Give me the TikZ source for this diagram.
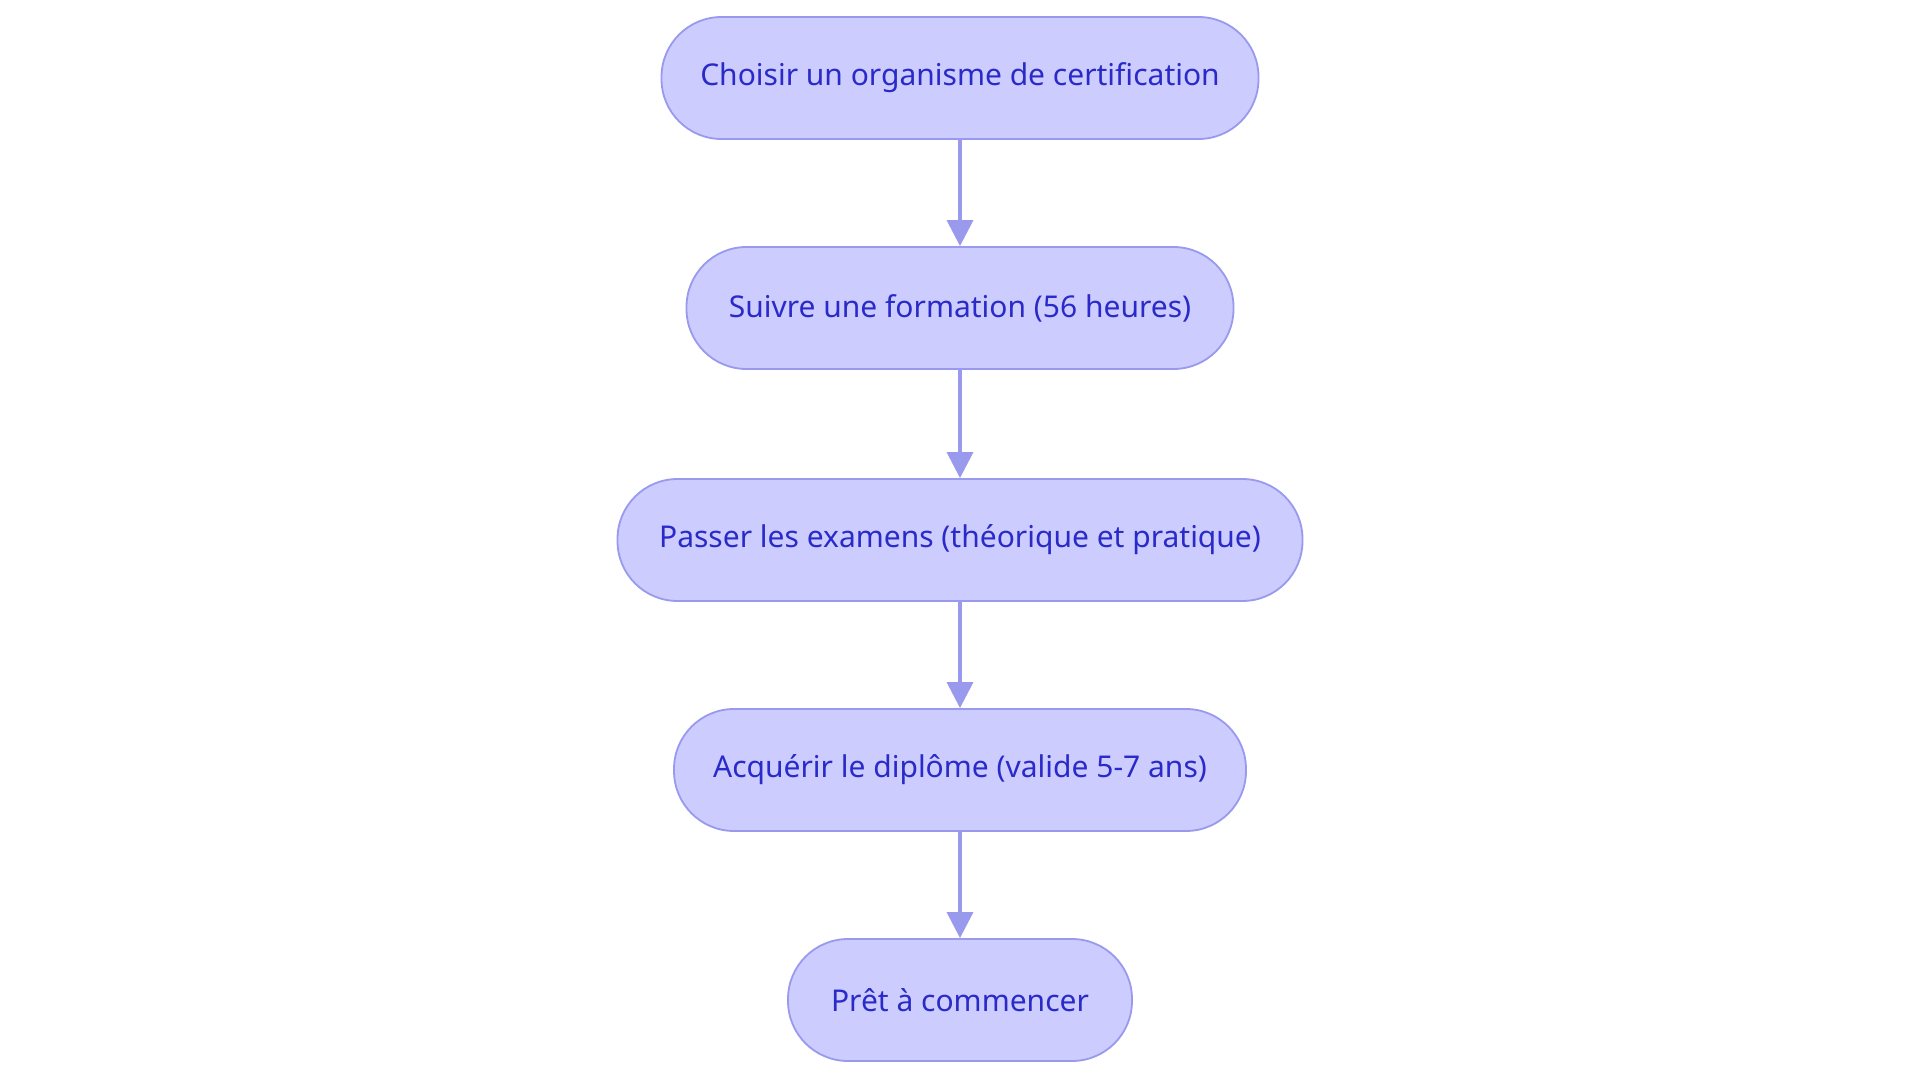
\documentclass[tikz,border=0pt]{standalone}
\usepackage{fontspec}
\setmainfont{Noto Sans}
\usetikzlibrary{arrows.meta}
\definecolor{nfill}{HTML}{CCCCFF}
\definecolor{nline}{HTML}{9999EE}
\definecolor{ntext}{HTML}{2A2AC8}
\begin{document}
\begin{tikzpicture}[x=1pt,y=-1pt,
  box/.style={draw=nline,fill=nfill,line width=1.8pt,rounded corners=60pt,minimum height=122pt,text=ntext,font=\fontsize{30}{34}\selectfont,inner sep=0pt},
  arr/.style={draw=nline,line width=3.5pt,-{Triangle[length=26pt,width=26pt]}}]
\useasboundingbox (0,0) rectangle (1920,1083);
\node[box,minimum width=597pt] (a) at (960,78) {Choisir un organisme de certification};
\node[box,minimum width=547pt] (b) at (960,308) {Suivre une formation (56 heures)};
\node[box,minimum width=685pt] (c) at (960,540) {Passer les examens (théorique et pratique)};
\node[box,minimum width=572pt] (d) at (960,770) {Acquérir le diplôme (valide 5-7 ans)};
\node[box,minimum width=344pt] (e) at (960,1000) {Prêt à commencer};
\draw[arr] (a) -- (b);
\draw[arr] (b) -- (c);
\draw[arr] (c) -- (d);
\draw[arr] (d) -- (e);
\end{tikzpicture}
\end{document}
